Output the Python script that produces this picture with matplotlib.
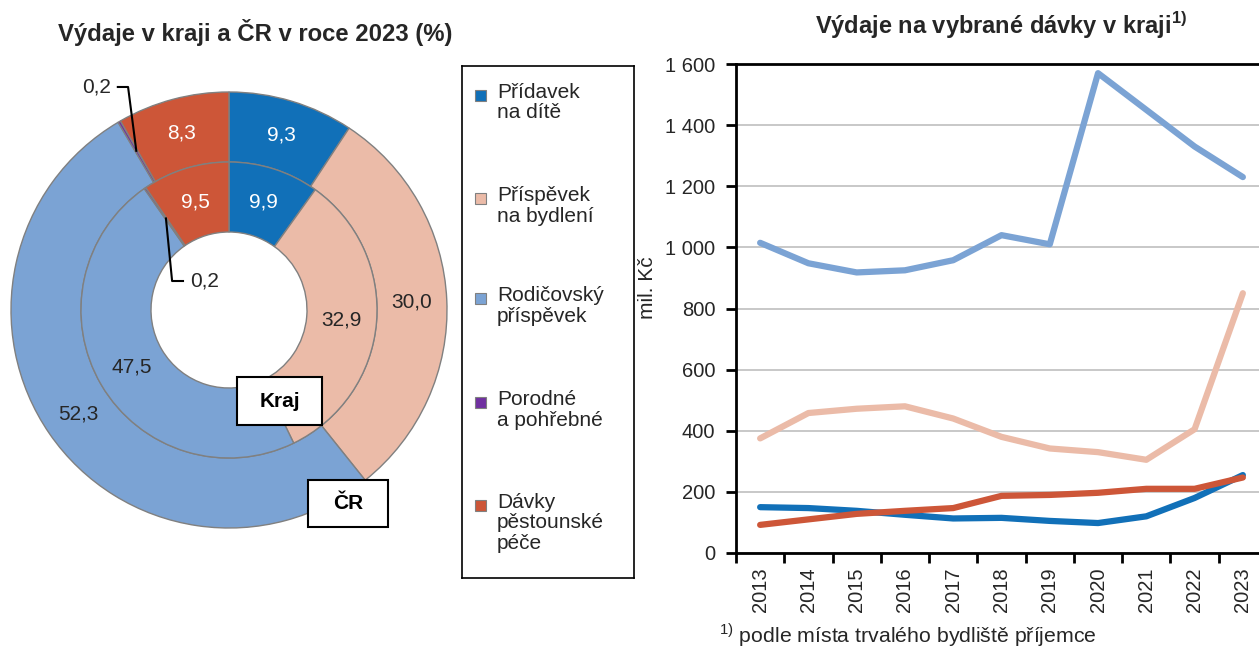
import numpy as np
import matplotlib.pyplot as plt
from matplotlib.patches import Rectangle
from matplotlib.ticker import FuncFormatter

plt.rcParams['font.family'] = ['Liberation Sans', 'DejaVu Sans']
plt.rcParams['mathtext.fontset'] = 'custom'
plt.rcParams['mathtext.rm'] = 'Liberation Sans'
plt.rcParams['mathtext.bf'] = 'Liberation Sans:bold'

# data
categories = ["Přídavek\nna dítě", "Příspěvek\nna bydlení", "Rodičovský\npříspěvek",
              "Porodné\na pohřebné", "Dávky\npěstounské\npéče"]
colors = ["#1170B8", "#EBBBA8", "#7BA3D4", "#7030A0", "#CD5638"]
label_colors = ["white", "#262626", "#262626", "#262626", "white"]
share_cr = [9.3, 30.0, 52.3, 0.2, 8.3]
share_kraj = [9.9, 32.9, 47.5, 0.2, 9.5]

years = [2013, 2014, 2015, 2016, 2017, 2018, 2019, 2020, 2021, 2022, 2023]
pridavek = [150, 147, 138, 125, 113, 115, 105, 98, 120, 180, 255]
bydleni = [375, 458, 472, 480, 440, 380, 342, 330, 305, 405, 850]
rodicovsky = [1015, 948, 918, 925, 958, 1040, 1010, 1570, 1450, 1330, 1230]
pestounske = [92, 110, 128, 138, 147, 187, 190, 197, 210, 210, 247]

W, H = 1259, 648
fig = plt.figure(figsize=(W / 100, H / 100), dpi=100)
fs = 14.5   # axis ticks
fs2 = 15    # donut labels and legend

def cz(v):
    return f"{v:.1f}".replace(".", ",")

#---- donut ----
cx, cy, R = 229, 310, 218
lim = 1.02
ax = fig.add_axes([(cx - R * lim) / W, (H - cy - R * lim) / H, 2 * R * lim / W, 2 * R * lim / H])
ring = 70 / R
wp = dict(width=ring, edgecolor="#808080", linewidth=1)
w_out, _ = ax.pie(share_cr, radius=1, startangle=90, counterclock=False, colors=colors, wedgeprops=wp)
w_in, _ = ax.pie(share_kraj, radius=1 - ring, startangle=90, counterclock=False, colors=colors, wedgeprops=wp)
ax.set_xlim(-lim, lim)
ax.set_ylim(-lim, lim)
ax.set_aspect("auto")

for wedges, vals in [(w_out, share_cr), (w_in, share_kraj)]:
    for i, (w, v) in enumerate(zip(wedges, vals)):
        if v < 1:
            continue
        t = np.deg2rad((w.theta1 + w.theta2) / 2)
        r = w.r - w.width / 2
        ax.text(r * np.cos(t), r * np.sin(t), cz(v), ha="center", va="center",
                fontsize=fs2, color=label_colors[i])

# leader lines for the tiny "Porodné" slices
t = np.deg2rad((w_out[3].theta1 + w_out[3].theta2) / 2)
px, py = 0.845 * np.cos(t), 0.845 * np.sin(t)
ax.plot([-0.51, -0.463, px], [1.023, 1.023, py], color="black", lw=1.5, clip_on=False)
ax.text(-0.54, 1.023, cz(share_cr[3]), ha="right", va="center", fontsize=fs2, color="#262626")

t = np.deg2rad((w_in[3].theta1 + w_in[3].theta2) / 2)
px, py = 0.51 * np.cos(t), 0.51 * np.sin(t)
ax.plot([-0.211, -0.261, px], [0.133, 0.133, py], color="black", lw=1.5, clip_on=False)
ax.text(-0.18, 0.133, cz(share_kraj[3]), ha="left", va="center", fontsize=fs2, color="#262626")

for x0, y0, x1, y1, txt in [(0.037, -0.528, 0.427, -0.307, "Kraj"), (0.362, -0.995, 0.729, -0.78, "ČR")]:
    ax.add_patch(Rectangle((x0, y0), x1 - x0, y1 - y0, facecolor="white", edgecolor="black",
                           lw=1.5, clip_on=False, zorder=5))
    ax.text((x0 + x1) / 2, (y0 + y1) / 2, txt, ha="center", va="center", fontsize=fs2,
            fontweight="bold", zorder=6)

fig.text(255 / W, 1 - 32 / H, "Výdaje v kraji a ČR v roce 2023 (%)", ha="center", va="center",
         fontsize=17.2, fontweight="bold", color="#262626")

#---- legend ----
lx0, ly0, lx1, ly1 = 462, 66, 634, 578
lax = fig.add_axes([lx0 / W, (H - ly1) / H, (lx1 - lx0) / W, (ly1 - ly0) / H])
lax.set_xlim(0, lx1 - lx0)
lax.set_ylim(ly1 - ly0, 0)
lax.set_xticks([])
lax.set_yticks([])
for s in lax.spines.values():
    s.set_linewidth(1.2)
entry_y = [95, 198, 298, 402, 505]
for lab, c, ey in zip(categories, colors, entry_y):
    yy = ey - ly0
    lax.add_patch(Rectangle((13, yy - 5), 11, 11, facecolor=c, edgecolor="#808080", lw=0.8))
    lax.text(35, yy - 12, lab, ha="left", va="top", fontsize=fs2, color="#262626", linespacing=1.1)

#---- line chart ----
ax2 = fig.add_axes([736 / W, (H - 553) / H, (1267 - 736) / W, (553 - 64) / H])
x = np.arange(len(years))
for vals, c in [(rodicovsky, colors[2]), (bydleni, colors[1]), (pridavek, colors[0]), (pestounske, colors[4])]:
    ax2.plot(x, vals, color=c, lw=4.5, solid_capstyle="round", solid_joinstyle="round", zorder=3)
ax2.set_xlim(-0.5, 10.5)
ax2.set_ylim(0, 1600)
ax2.set_xticks(np.arange(-0.5, 11, 1))
ax2.set_xticklabels([])
ax2.set_xticks(x, minor=True)
ax2.set_xticklabels([str(y) for y in years], minor=True, rotation=90)
ax2.tick_params(axis="x", which="major", length=7, width=2, direction="out")
ax2.tick_params(axis="x", which="minor", length=0, pad=10.5, labelsize=fs, labelcolor="#262626")
ax2.set_yticks(range(0, 1601, 200))
ax2.yaxis.set_major_formatter(FuncFormatter(lambda v, p: f"{v:,.0f}".replace(",", " ")))
ax2.tick_params(axis="y", length=7, width=2, direction="out", pad=8, labelsize=fs, labelcolor="#262626")
ax2.grid(axis="y", color="#BFBFBF", lw=1.2)
ax2.set_axisbelow(True)
for s in ["left", "bottom", "top"]:
    ax2.spines[s].set_linewidth(2)
ax2.spines["right"].set_visible(False)
fig.text(648 / W, 1 - 288 / H, "mil. Kč", rotation=90, ha="center", va="center",
         fontsize=fs2, color="#262626")

fig.text(1001 / W, 1 - 25 / H, r"Výdaje na vybrané dávky v kraji$^{\mathbf{1)}}$", ha="center",
         va="center", fontsize=17, fontweight="bold", color="#262626")
fig.text(719 / W, 1 - 635 / H, r"$^{1)}$ podle místa trvalého bydliště příjemce", ha="left",
         va="center", fontsize=15.3, color="#262626")

fig.savefig("out.png", dpi=100)
